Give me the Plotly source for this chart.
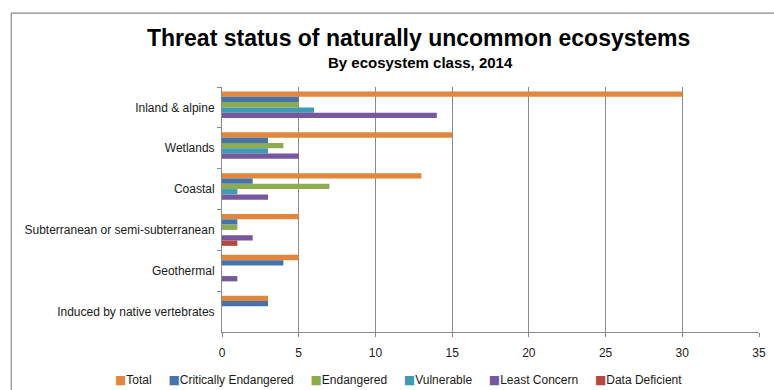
import plotly.graph_objects as go

# Ecosystem classes (top to bottom) and counts per threat category
classes = [
    "Inland & alpine",
    "Wetlands",
    "Coastal",
    "Subterranean or semi-subterranean",
    "Geothermal",
    "Induced by native vertebrates",
]
total = [30, 15, 13, 5, 5, 3]
critically_endangered = [5, 3, 2, 1, 4, 3]
endangered = [5, 4, 7, 1, 0, 0]
vulnerable = [6, 3, 1, 0, 0, 0]
least_concern = [14, 5, 3, 2, 1, 0]
data_deficient = [0, 0, 0, 1, 0, 0]

series_names = ["Total", "Critically Endangered", "Endangered",
                "Vulnerable", "Least Concern", "Data Deficient"]
series_values = [total, critically_endangered, endangered,
                 vulnerable, least_concern, data_deficient]
series_colors = ["#E0863D", "#4673AA", "#8DAB4F", "#3F9BB5", "#76599D", "#B5473F"]

x_ticks = [0, 5, 10, 15, 20, 25, 30, 35]

W, H = 774, 390
ML, MR, MT, MB = 222, 8, 86.5, 58
PW, PH = W - ML - MR, H - MT - MB


def px_x(px):
    return (px - ML) / PW


def px_y(py):
    return 1 + (MT - py) / PH


fig = go.Figure()
for name, vals, col in zip(series_names, series_values, series_colors):
    fig.add_trace(go.Bar(
        y=classes, x=vals, name=name, orientation="h",
        marker=dict(color=col, line=dict(width=0)),
    ))

grey = "#8a8a8a"
font = "Liberation Sans, Arial, Helvetica, sans-serif"

# Single-row legend: a coloured square followed by each series name
gap = "&nbsp;" * 5
legend_text = gap.join(
    f"<span style='color:{col};font-family:DejaVu Sans;font-size:12px'>■</span>{name}"
    for name, col in zip(series_names, series_colors)
)

fig.update_layout(
    width=W, height=H,
    margin=dict(l=ML, r=MR, t=MT, b=MB, pad=0),
    paper_bgcolor="white", plot_bgcolor="white",
    barmode="group", bargap=0.22, bargroupgap=0,
    font=dict(family=font, size=12, color="#1a1a1a"),
    showlegend=False,
    xaxis=dict(
        range=[0, 35], tickvals=x_ticks, ticktext=[str(v) for v in x_ticks],
        showgrid=True, gridcolor=grey, gridwidth=1,
        zeroline=False, showline=True, linecolor=grey, linewidth=1,
        ticks="outside", ticklen=4, tickcolor=grey,
        ticklabelstandoff=6, fixedrange=True,
    ),
    yaxis=dict(
        autorange="reversed", type="category",
        showgrid=False, zeroline=False,
        showline=True, linecolor=grey, linewidth=1,
        ticks="outside", ticklen=4, tickcolor=grey, tickson="boundaries",
        ticklabelstandoff=4, fixedrange=True,
    ),
    annotations=[
        dict(text="<b>Threat status of naturally uncommon ecosystems</b>",
             xref="paper", yref="paper", x=px_x(421), y=px_y(37),
             xanchor="center", yanchor="middle", showarrow=False,
             font=dict(size=23, family=font, color="#000000")),
        dict(text="<b>By ecosystem class, 2014</b>",
             xref="paper", yref="paper", x=px_x(423), y=px_y(61.5),
             xanchor="center", yanchor="middle", showarrow=False,
             font=dict(size=15, family=font, color="#000000")),
        dict(text=legend_text,
             xref="paper", yref="paper", x=px_x(401), y=px_y(380),
             xanchor="center", yanchor="middle", showarrow=False,
             font=dict(size=12, family=font, color="#1a1a1a")),
    ],
    shapes=[
        dict(type="rect", xref="paper", yref="paper",
             x0=px_x(8.5), x1=px_x(W + 40), y0=px_y(H + 40), y1=px_y(12.5),
             line=dict(color="#8c8c8c", width=1.2), fillcolor="rgba(0,0,0,0)",
             layer="below"),
    ],
)

fig.write_html("out.html")
